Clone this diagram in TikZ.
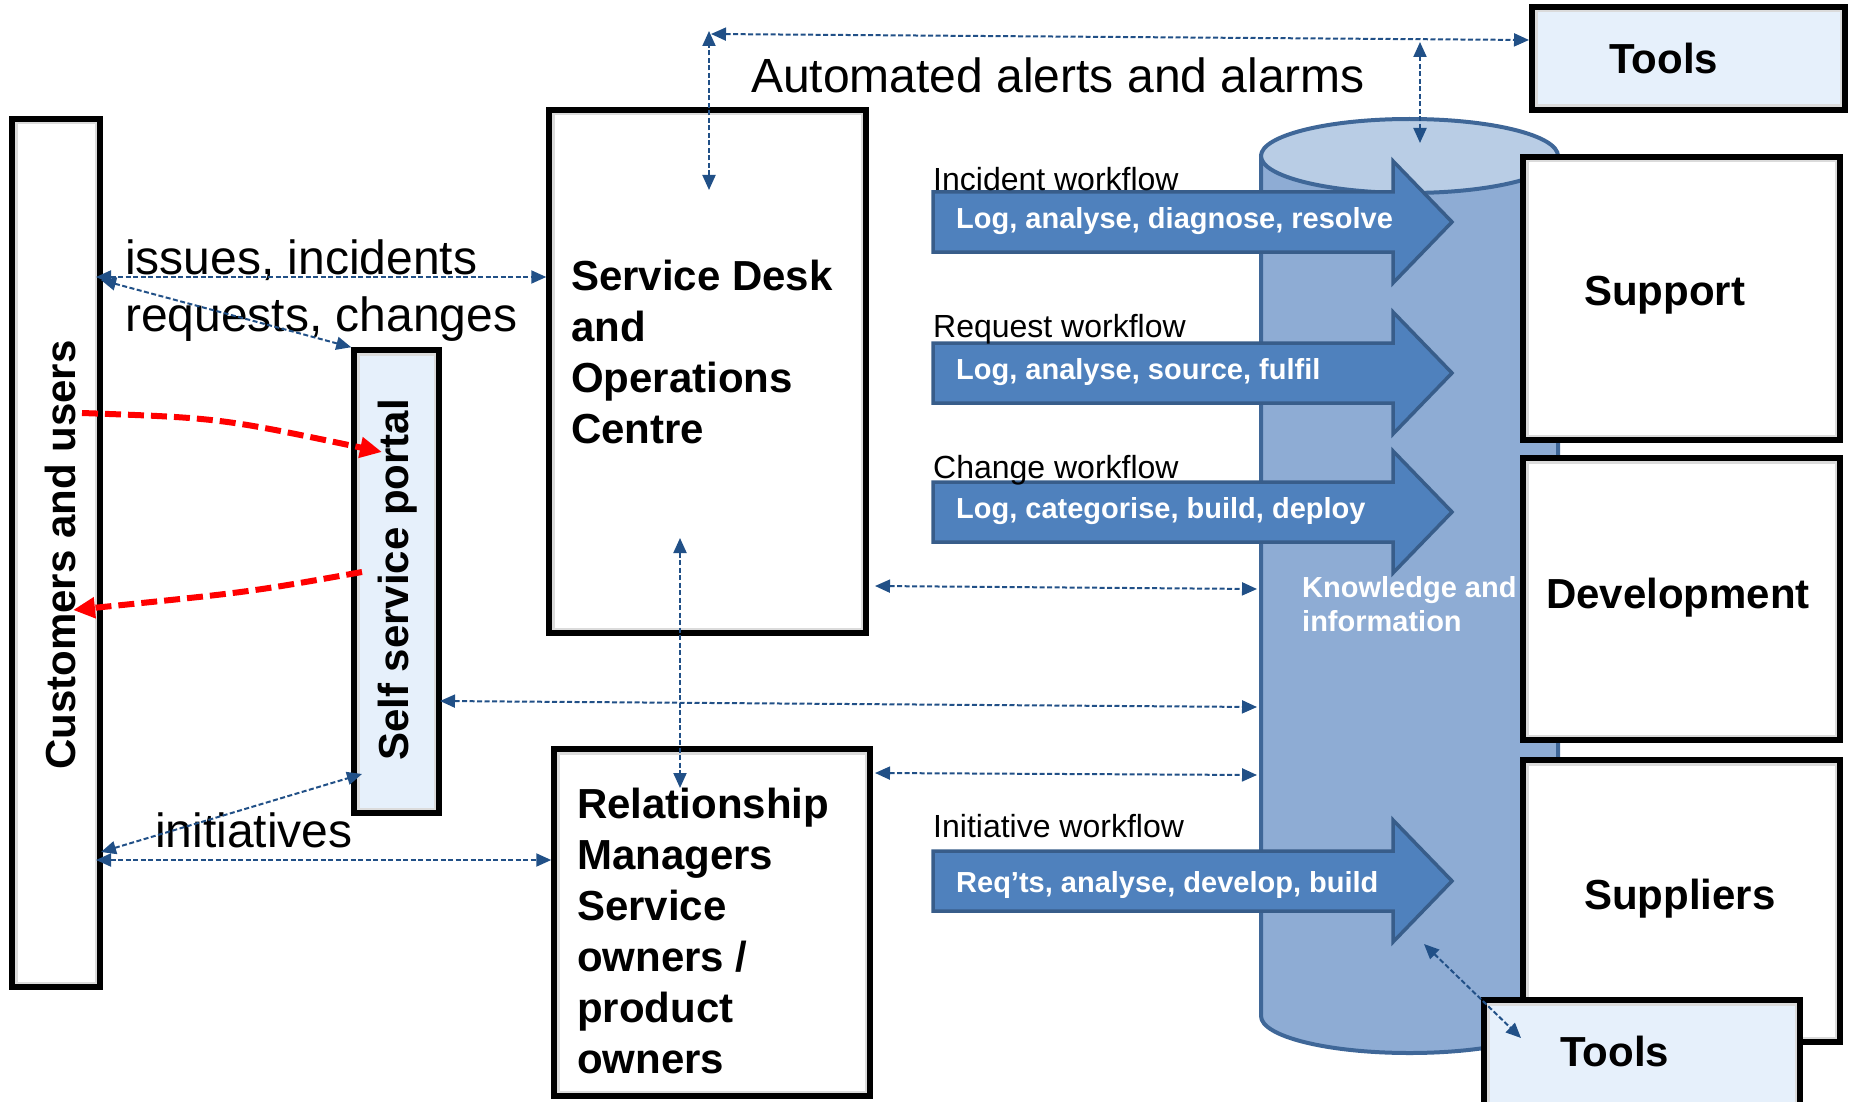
\documentclass[tikz,border=0pt]{standalone}
\usepackage{fontspec}
\setmainfont{Liberation Sans}
\usetikzlibrary{arrows.meta}
\definecolor{conncol}{RGB}{33,80,135}
\definecolor{toolfill}{RGB}{230,240,251}
\definecolor{cylbody}{RGB}{142,172,212}
\definecolor{cyltop}{RGB}{185,205,229}
\definecolor{cylline}{RGB}{63,103,152}
\definecolor{wffill}{RGB}{79,129,189}
\definecolor{wfline}{RGB}{56,93,138}
\begin{document}
\begin{tikzpicture}[x=1pt,y=-1pt,
  box/.style={draw=black, line width=5.5pt, fill=white, inner sep=0pt,
    path picture={\draw[black!14, line width=11pt] (path picture bounding box.south west) rectangle (path picture bounding box.north east);}},
  lbox/.style={box, fill=toolfill},
  bigb/.style={font=\fontsize{42}{51}\selectfont\bfseries, inner sep=0pt, anchor=base west},
  bigr/.style={font=\fontsize{48}{58}\selectfont, inner sep=0pt, anchor=base west},
  wflab/.style={font=\fontsize{32}{38}\selectfont, inner sep=0pt, anchor=base west},
  wftxt/.style={font=\fontsize{29}{35}\selectfont\bfseries, text=white, inner sep=0pt, anchor=base west},
  wfarrow/.style={fill=wffill, draw=wfline, line width=3.5pt, line join=miter},
  conn/.style={draw=conncol, line width=2pt, dash pattern=on 5pt off 2.5pt, {Triangle[length=15pt,width=13pt]}-{Triangle[length=15pt,width=13pt]}},
  redc/.style={draw=red, line width=6pt, dash pattern=on 16pt off 7pt, -{Triangle[length=22pt,width=20pt]}}
]
\useasboundingbox (0,0) rectangle (1849,1102);
\clip (0,0) rectangle (1849,1102);

% knowledge cylinder
\path[fill=cylbody, draw=cylline, line width=4pt] (1261,156) -- (1261,1016)
  arc[start angle=180, end angle=360, x radius=148.5pt, y radius=37pt] -- (1558,156) -- cycle;
\path[fill=cyltop, draw=cylline, line width=4pt] (1409.5,156) ellipse [x radius=148.5pt, y radius=37pt];
\node[wftxt] (kn1) at (1302,597) {Knowledge and};
\node[wftxt] (kn2) at (1302,631) {information};

% workflow arrows
\draw[wfarrow] (933,192) -- (1393,192) -- (1393,161) -- (1452,222) -- (1393,283) -- (1393,252) -- (933,252) -- cycle;
\draw[wfarrow] (933,343) -- (1393,343) -- (1393,312) -- (1452,373) -- (1393,434) -- (1393,403) -- (933,403) -- cycle;
\draw[wfarrow] (933,482) -- (1393,482) -- (1393,451) -- (1452,512) -- (1393,573) -- (1393,542) -- (933,542) -- cycle;
\draw[wfarrow] (933,851) -- (1393,851) -- (1393,820) -- (1452,881) -- (1393,942) -- (1393,911) -- (933,911) -- cycle;
\node[wftxt] (w1) at (956,228) {Log, analyse, diagnose, resolve};
\node[wftxt] (w2) at (956,379) {Log, analyse, source, fulfil};
\node[wftxt] (w3) at (956,518) {Log, categorise, build, deploy};
\node[wftxt] (w4) at (956,892) {Req’ts, analyse, develop, build};
\node[wflab] (l1) at (933,190) {Incident workflow};
\node[wflab] (l2) at (933,337) {Request workflow};
\node[wflab] (l3) at (933,478) {Change workflow};
\node[wflab] (l4) at (933,837) {Initiative workflow};

% boxes
\node[box, minimum width=88pt, minimum height=868pt] (cust) at (56,553) {};
\node[lbox, minimum width=85pt, minimum height=463pt] (portal) at (396.5,581.5) {};
\node[box, minimum width=317pt, minimum height=523pt] (sd) at (707.5,371.5) {};
\node[box, minimum width=316pt, minimum height=347pt] (rm) at (712,922.5) {};
\node[lbox, minimum width=313pt, minimum height=103pt] (toolsT) at (1688.5,58.5) {};
\node[box, minimum width=317pt, minimum height=283pt] (support) at (1681.5,298.5) {};
\node[box, minimum width=317pt, minimum height=282pt] (dev) at (1681.5,599) {};
\node[box, minimum width=317pt, minimum height=282pt] (supp) at (1681.5,901) {};
\node[lbox, minimum width=316pt, minimum height=115pt] (toolsB) at (1642,1057.5) {};

% box texts
\node[bigb, rotate=90, anchor=base] (custT) at (75,555) {Customers and users};
\node[bigb, rotate=90, anchor=base] (portT) at (408,580) {Self service portal};
\node[bigb] (sd1) at (571,290) {Service Desk};
\node[bigb] (sd2) at (571,341) {and};
\node[bigb] (sd3) at (571,392) {Operations};
\node[bigb] (sd4) at (571,443) {Centre};
\node[bigb] (rm1) at (577,818) {Relationship};
\node[bigb] (rm2) at (577,869) {Managers};
\node[bigb] (rm3) at (577,920) {Service};
\node[bigb] (rm4) at (577,971) {owners /};
\node[bigb] (rm5) at (577,1022) {product};
\node[bigb] (rm6) at (577,1073) {owners};
\node[bigb] (toolsTT) at (1609,74) {Tools};
\node[bigb] (supportT) at (1584,305) {Support};
\node[bigb] (devT) at (1546,608) {Development};
\node[bigb] (suppT) at (1584,909) {Suppliers};
\node[bigb] (toolsBT) at (1560,1066) {Tools};

% free labels
\node[bigr] (alerts) at (751,93) {Automated alerts and alarms};
\node[bigr] (iss) at (125,274) {issues, incidents};
\node[bigr] (req) at (125,331) {requests, changes};
\node[bigr] (ini) at (155,847) {initiatives};

% connector end points
\coordinate (a1) at (96,277);
\coordinate (a2) at (101,280);
\coordinate (a3) at (709,190);
\coordinate (a4) at (709,31);
\coordinate (a5) at (711,34);
\coordinate (a6) at (1529,40);
\coordinate (a7) at (1420,42);
\coordinate (a8) at (1420,143);
\coordinate (a9) at (680,538);
\coordinate (a10) at (680,788);
\coordinate (a11) at (875,586);
\coordinate (a11b) at (1257,589);
\coordinate (a12) at (440,701);
\coordinate (a13) at (1257,707);
\coordinate (a14) at (875,773);
\coordinate (a15) at (1257,775);
\coordinate (a16) at (96,860);
\coordinate (a17) at (101,852);
\coordinate (a18) at (362,774);
\coordinate (a19) at (1424,944);
\coordinate (a20) at (1521,1038);

% dashed connectors
\draw[conn] (a1) -- (a1 -| sd.west);
\draw[conn] (a2) -- (portal.north west);
\draw[conn] (a3) -- (a4);
\draw[conn] (a5) -- (a6);
\draw[conn] (a7) -- (a8);
\draw[conn] (a9) -- (a10);
\draw[conn] (a11) -- (a11b);
\draw[conn] (a12) -- (a13);
\draw[conn] (a14) -- (a15);
\draw[conn] (a16) -- (a16 -| rm.west);
\draw[conn] (a17) -- (a18);
\draw[conn] (a19) -- (a20);

% red self-service arrows
\coordinate (r1) at (82,413);
\coordinate (r2) at (382,452);
\coordinate (r3) at (362,572);
\coordinate (r4) at (73,610);
\draw[redc] (r1) .. controls (220,418) .. (r2);
\draw[redc] (r3) .. controls (250,592) .. (r4);
\end{tikzpicture}
\end{document}
